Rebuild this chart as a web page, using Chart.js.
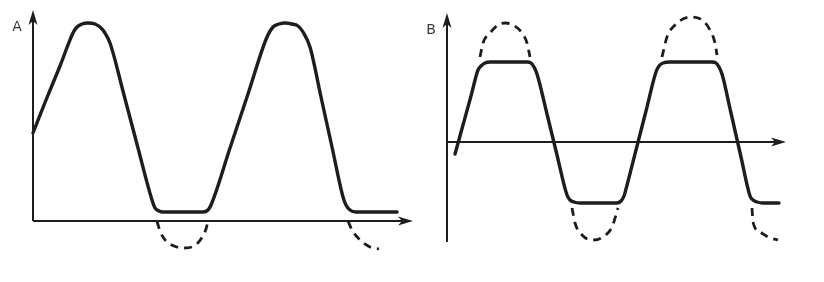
<!DOCTYPE html>
<html>
<head>
<meta charset="utf-8">
<script src="https://cdn.jsdelivr.net/npm/chart.js@4/dist/chart.umd.min.js"></script>
<style>
  html, body { margin:0; padding:0; background:#ffffff; }
  body { width:824px; height:282px; position:relative; overflow:hidden; }
  .panel { position:absolute; top:0; height:282px; }
  #pa { left:0; width:420px; }
  #pb { left:412px; width:412px; }
</style>
</head>
<body>
<div class="panel" id="pa"><canvas id="ca"></canvas></div>
<div class="panel" id="pb"><canvas id="cb"></canvas></div>
<script>
// ---- Panel A: signal clipped at the bottom ----
const aSolid = [[0,88],[13,121],[27,155],[40,188],[44,194],[49,197],[55,198],[62,197],[67,194],[72,188],[77,178],
  [91,126],[105,73],[119,21],[122,13],[126,10],[130,9],[170,9],[175,11],[178,16],
  [197,73],[215,127],[234,184],[240,194],[246,197],[252,198],[259,197],[265,195],[270,189],[277,174],
  [288,124],[299,74],[310,24],[313,16],[317,11],[323,9],[364,9]];
const aDash1 = [[124,0],[127,-10],[133,-20],[141,-25],[151,-27],[161,-25],[168,-18],[173,-8],[175,0]];
const aDash2 = [[315,0],[319,-9],[327,-19],[337,-26],[346,-28]];

// ---- Panel B: signal clipped at both top and bottom ----
const bSolid = [[8,-12],[16,17],[24,46],[31,72],[34,76],[38,79],[43,80],[80,80],[84,79],[87,75],[90,68],
  [100,28],[110,-13],[120,-53],[123,-58],[127,-60],[133,-61],[170,-61],[174,-59],[177,-54],[179,-47],
  [189,-8],[199,31],[209,70],[212,76],[216,79],[223,80],[265,80],[269,79],[272,75],[275,68],
  [284,29],[294,-15],[303,-54],[306,-58],[310,-60],[316,-61],[332,-61]];
const bDash1 = [[33,85],[36,99],[43,109],[51,117],[58,119],[66,117],[75,109],[80,99],[83,85]];
const bDash2 = [[125,-66],[128,-81],[135,-93],[146,-98],[156,-95],[165,-85],[171,-66]];
const bDash3 = [[215,85],[220,105],[228,117],[243,125],[255,122],[263,112],[268,99],[270,87]];
const bDash4 = [[305,-66],[306,-80],[313,-90],[321,-95],[331,-98]];

// axis extents (data units) and panel labels
const aAxisX = [0, 380], aAxisY = [0, 211];
const bAxisX = [0, 339], bAxisY = [-100, 129];
const panelLabels = ['A', 'B'];

const INK = '#1d1d1d';

const toPts = arr => arr.map(p => ({x:p[0], y:p[1]}));

const solidDs = arr => ({
  data: toPts(arr), borderColor: INK, borderWidth: 3.4,
  borderCapStyle:'round', borderJoinStyle:'round',
  pointRadius:0, cubicInterpolationMode:'monotone', fill:false
});
const dashDs = arr => ({
  data: toPts(arr), borderColor: INK, borderWidth: 2.8,
  borderDash:[8,6], borderCapStyle:'butt',
  pointRadius:0, cubicInterpolationMode:'monotone', fill:false
});

const arrowAxes = {
  id:'arrowAxes',
  beforeDatasetsDraw(chart, args, o) {
    const {ctx, scales:{x, y}} = chart;
    const px = v => x.getPixelForValue(v), py = v => y.getPixelForValue(v);
    ctx.save();
    ctx.strokeStyle = INK; ctx.fillStyle = INK; ctx.lineWidth = 2;
    const x0 = px(o.ax[0]), x1 = px(o.ax[1]), yz = py(0);
    const y0 = py(o.ay[0]), y1 = py(o.ay[1]), xz = px(0);
    ctx.beginPath(); ctx.moveTo(x0, yz); ctx.lineTo(x1 - 8, yz); ctx.stroke();
    ctx.beginPath(); ctx.moveTo(xz, y0); ctx.lineTo(xz, y1 + 8); ctx.stroke();
    const L = 15, W = 4.5;
    ctx.beginPath();
    ctx.moveTo(x1, yz); ctx.lineTo(x1 - L, yz - W); ctx.lineTo(x1 - L + 4, yz); ctx.lineTo(x1 - L, yz + W);
    ctx.closePath(); ctx.fill();
    ctx.beginPath();
    ctx.moveTo(xz, y1); ctx.lineTo(xz - W, y1 + L); ctx.lineTo(xz, y1 + L - 4); ctx.lineTo(xz + W, y1 + L);
    ctx.closePath(); ctx.fill();
    ctx.fillStyle = '#3a3a3a';
    ctx.font = '14px "DejaVu Sans", sans-serif';
    ctx.textAlign = 'center'; ctx.textBaseline = 'middle';
    ctx.fillText(o.label, xz + o.lx, y1 + o.ly);
    ctx.restore();
  }
};

function makeChart(id, datasets, xmin, xmax, ymin, ymax, axOpts) {
  return new Chart(document.getElementById(id), {
    type:'line',
    data:{ datasets },
    options:{
      responsive:true, maintainAspectRatio:false, animation:false,
      layout:{ padding:0 },
      scales:{
        x:{ type:'linear', min:xmin, max:xmax, display:false },
        y:{ type:'linear', min:ymin, max:ymax, display:false }
      },
      plugins:{ legend:{display:false}, tooltip:{enabled:false}, arrowAxes: axOpts }
    },
    plugins:[arrowAxes]
  });
}

makeChart('ca', [solidDs(aSolid), dashDs(aDash1), dashDs(aDash2)],
  -33, 387, -61, 221,
  { ax:aAxisX, ay:aAxisY, label:panelLabels[0], lx:-16, ly:17 });

makeChart('cb', [solidDs(bSolid), dashDs(bDash1), dashDs(bDash2), dashDs(bDash3), dashDs(bDash4)],
  -35, 377, -140, 142,
  { ax:bAxisX, ay:bAxisY, label:panelLabels[1], lx:-16, ly:17 });
</script>
</body>
</html>
